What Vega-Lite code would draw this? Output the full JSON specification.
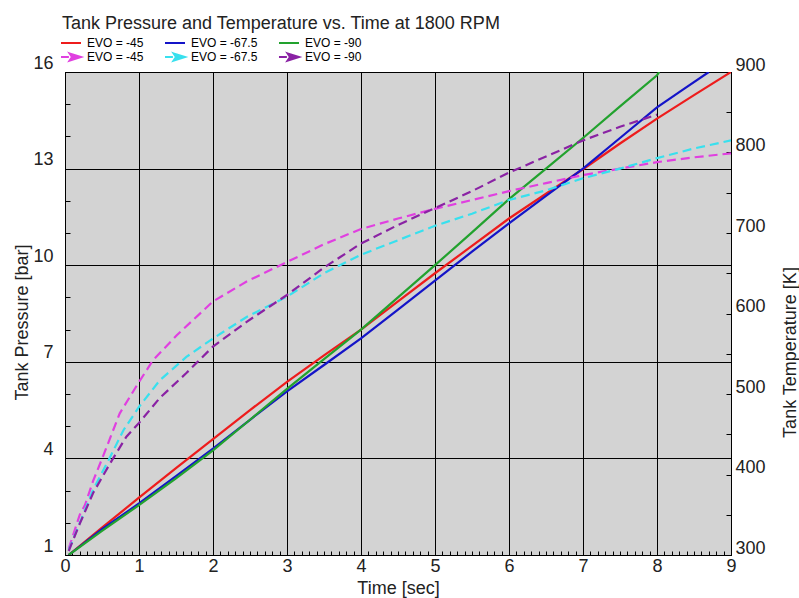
{
  "$schema": "https://vega.github.io/schema/vega-lite/v6.json",
  "width": 666,
  "height": 483,
  "autosize": "none",
  "padding": {"left": 65, "top": 72, "right": 68, "bottom": 43},
  "background": "white",
  "title": {
    "text": "Tank Pressure and Temperature vs. Time at 1800 RPM",
    "anchor": "start",
    "frame": "group",
    "font": "Liberation Sans",
    "fontSize": 18,
    "fontWeight": "normal",
    "color": "#222",
    "offset": 3,
    "dx": -3
  },
  "config": {
    "font": "Liberation Sans",
    "view": {"fill": "#d3d3d3", "stroke": "#000", "strokeWidth": 1},
    "axis": {
      "domainColor": "#000",
      "tickColor": "#000",
      "gridColor": "#000",
      "gridWidth": 1,
      "labelFont": "Liberation Sans",
      "labelFontSize": 18,
      "labelColor": "#222",
      "titleFont": "Liberation Sans",
      "titleFontSize": 18,
      "titleFontWeight": "normal",
      "titleColor": "#222",
      "labelOverlap": false,
      "labelFlush": false,
      "labelBound": false
    }
  },
  "data": {
    "values": [
      {"q": "P", "s": "P-45", "t": 0.05, "v": 1.0},
      {"q": "P", "s": "P-45", "t": 0.5, "v": 1.85},
      {"q": "P", "s": "P-45", "t": 1, "v": 2.78},
      {"q": "P", "s": "P-45", "t": 1.5, "v": 3.7},
      {"q": "P", "s": "P-45", "t": 2, "v": 4.6},
      {"q": "P", "s": "P-45", "t": 2.5, "v": 5.5},
      {"q": "P", "s": "P-45", "t": 3, "v": 6.38},
      {"q": "P", "s": "P-45", "t": 3.5, "v": 7.2},
      {"q": "P", "s": "P-45", "t": 4, "v": 8.0},
      {"q": "P", "s": "P-45", "t": 4.5, "v": 8.88},
      {"q": "P", "s": "P-45", "t": 5, "v": 9.75},
      {"q": "P", "s": "P-45", "t": 5.5, "v": 10.6},
      {"q": "P", "s": "P-45", "t": 6, "v": 11.45},
      {"q": "P", "s": "P-45", "t": 6.5, "v": 12.22},
      {"q": "P", "s": "P-45", "t": 7, "v": 12.98},
      {"q": "P", "s": "P-45", "t": 7.5, "v": 13.78},
      {"q": "P", "s": "P-45", "t": 8, "v": 14.55},
      {"q": "P", "s": "P-45", "t": 8.5, "v": 15.28},
      {"q": "P", "s": "P-45", "t": 9, "v": 16.0},

      {"q": "P", "s": "P-67.5", "t": 0.05, "v": 1.0},
      {"q": "P", "s": "P-67.5", "t": 0.5, "v": 1.8},
      {"q": "P", "s": "P-67.5", "t": 1, "v": 2.6},
      {"q": "P", "s": "P-67.5", "t": 1.5, "v": 3.45},
      {"q": "P", "s": "P-67.5", "t": 2, "v": 4.3},
      {"q": "P", "s": "P-67.5", "t": 2.5, "v": 5.2},
      {"q": "P", "s": "P-67.5", "t": 3, "v": 6.08},
      {"q": "P", "s": "P-67.5", "t": 3.5, "v": 6.9},
      {"q": "P", "s": "P-67.5", "t": 4, "v": 7.73},
      {"q": "P", "s": "P-67.5", "t": 4.5, "v": 8.62},
      {"q": "P", "s": "P-67.5", "t": 5, "v": 9.52},
      {"q": "P", "s": "P-67.5", "t": 5.5, "v": 10.42},
      {"q": "P", "s": "P-67.5", "t": 6, "v": 11.3},
      {"q": "P", "s": "P-67.5", "t": 6.5, "v": 12.15},
      {"q": "P", "s": "P-67.5", "t": 7, "v": 13.0},
      {"q": "P", "s": "P-67.5", "t": 7.5, "v": 13.95},
      {"q": "P", "s": "P-67.5", "t": 8, "v": 14.9},
      {"q": "P", "s": "P-67.5", "t": 8.35, "v": 15.45},
      {"q": "P", "s": "P-67.5", "t": 8.7, "v": 16.0},

      {"q": "P", "s": "P-90", "t": 0.05, "v": 1.0},
      {"q": "P", "s": "P-90", "t": 0.5, "v": 1.75},
      {"q": "P", "s": "P-90", "t": 1, "v": 2.55},
      {"q": "P", "s": "P-90", "t": 1.5, "v": 3.38},
      {"q": "P", "s": "P-90", "t": 2, "v": 4.25},
      {"q": "P", "s": "P-90", "t": 2.5, "v": 5.2},
      {"q": "P", "s": "P-90", "t": 3, "v": 6.16},
      {"q": "P", "s": "P-90", "t": 3.5, "v": 7.08},
      {"q": "P", "s": "P-90", "t": 4, "v": 8.0},
      {"q": "P", "s": "P-90", "t": 4.5, "v": 9.0},
      {"q": "P", "s": "P-90", "t": 5, "v": 10.0},
      {"q": "P", "s": "P-90", "t": 5.5, "v": 11.02},
      {"q": "P", "s": "P-90", "t": 6, "v": 12.05},
      {"q": "P", "s": "P-90", "t": 6.5, "v": 13.0},
      {"q": "P", "s": "P-90", "t": 7, "v": 13.95},
      {"q": "P", "s": "P-90", "t": 7.5, "v": 14.93},
      {"q": "P", "s": "P-90", "t": 8, "v": 15.9},
      {"q": "P", "s": "P-90", "t": 8.03, "v": 16.0},

      {"q": "T", "s": "T-45", "t": 0.05, "v": 308},
      {"q": "T", "s": "T-45", "t": 0.2, "v": 350},
      {"q": "T", "s": "T-45", "t": 0.27, "v": 362},
      {"q": "T", "s": "T-45", "t": 0.38, "v": 392},
      {"q": "T", "s": "T-45", "t": 0.52, "v": 424},
      {"q": "T", "s": "T-45", "t": 0.74, "v": 476},
      {"q": "T", "s": "T-45", "t": 1.0, "v": 515},
      {"q": "T", "s": "T-45", "t": 1.19, "v": 542},
      {"q": "T", "s": "T-45", "t": 1.51, "v": 573},
      {"q": "T", "s": "T-45", "t": 2.0, "v": 615},
      {"q": "T", "s": "T-45", "t": 2.46, "v": 640},
      {"q": "T", "s": "T-45", "t": 3.0, "v": 664},
      {"q": "T", "s": "T-45", "t": 3.5, "v": 686},
      {"q": "T", "s": "T-45", "t": 4.0, "v": 705},
      {"q": "T", "s": "T-45", "t": 4.5, "v": 718},
      {"q": "T", "s": "T-45", "t": 5.0, "v": 730},
      {"q": "T", "s": "T-45", "t": 5.5, "v": 741},
      {"q": "T", "s": "T-45", "t": 6.0, "v": 752},
      {"q": "T", "s": "T-45", "t": 6.5, "v": 762},
      {"q": "T", "s": "T-45", "t": 7.0, "v": 772},
      {"q": "T", "s": "T-45", "t": 7.5, "v": 780},
      {"q": "T", "s": "T-45", "t": 8.0, "v": 788},
      {"q": "T", "s": "T-45", "t": 8.5, "v": 794},
      {"q": "T", "s": "T-45", "t": 9.0, "v": 799},

      {"q": "T", "s": "T-67.5", "t": 0.05, "v": 306},
      {"q": "T", "s": "T-67.5", "t": 0.2, "v": 340},
      {"q": "T", "s": "T-67.5", "t": 0.38, "v": 381},
      {"q": "T", "s": "T-67.5", "t": 0.47, "v": 397},
      {"q": "T", "s": "T-67.5", "t": 0.59, "v": 418},
      {"q": "T", "s": "T-67.5", "t": 0.79, "v": 455},
      {"q": "T", "s": "T-67.5", "t": 1.0, "v": 484},
      {"q": "T", "s": "T-67.5", "t": 1.28, "v": 517},
      {"q": "T", "s": "T-67.5", "t": 1.64, "v": 546},
      {"q": "T", "s": "T-67.5", "t": 2.0, "v": 569},
      {"q": "T", "s": "T-67.5", "t": 2.46, "v": 596},
      {"q": "T", "s": "T-67.5", "t": 3.0, "v": 621},
      {"q": "T", "s": "T-67.5", "t": 3.5, "v": 650},
      {"q": "T", "s": "T-67.5", "t": 4.0, "v": 673},
      {"q": "T", "s": "T-67.5", "t": 4.5, "v": 691},
      {"q": "T", "s": "T-67.5", "t": 5.0, "v": 709},
      {"q": "T", "s": "T-67.5", "t": 5.5, "v": 724},
      {"q": "T", "s": "T-67.5", "t": 6.0, "v": 741},
      {"q": "T", "s": "T-67.5", "t": 6.5, "v": 753},
      {"q": "T", "s": "T-67.5", "t": 7.0, "v": 768},
      {"q": "T", "s": "T-67.5", "t": 7.5, "v": 780},
      {"q": "T", "s": "T-67.5", "t": 8.0, "v": 793},
      {"q": "T", "s": "T-67.5", "t": 8.5, "v": 805},
      {"q": "T", "s": "T-67.5", "t": 9.0, "v": 815},

      {"q": "T", "s": "T-90", "t": 0.05, "v": 305},
      {"q": "T", "s": "T-90", "t": 0.2, "v": 339},
      {"q": "T", "s": "T-90", "t": 0.38, "v": 377},
      {"q": "T", "s": "T-90", "t": 0.61, "v": 414},
      {"q": "T", "s": "T-90", "t": 0.83, "v": 447},
      {"q": "T", "s": "T-90", "t": 1.0, "v": 464},
      {"q": "T", "s": "T-90", "t": 1.28, "v": 495},
      {"q": "T", "s": "T-90", "t": 1.64, "v": 526},
      {"q": "T", "s": "T-90", "t": 2.0, "v": 559},
      {"q": "T", "s": "T-90", "t": 2.46, "v": 590},
      {"q": "T", "s": "T-90", "t": 3.0, "v": 623},
      {"q": "T", "s": "T-90", "t": 3.5, "v": 657},
      {"q": "T", "s": "T-90", "t": 4.0, "v": 687},
      {"q": "T", "s": "T-90", "t": 4.5, "v": 710},
      {"q": "T", "s": "T-90", "t": 5.0, "v": 731},
      {"q": "T", "s": "T-90", "t": 5.5, "v": 752},
      {"q": "T", "s": "T-90", "t": 6.0, "v": 775},
      {"q": "T", "s": "T-90", "t": 6.5, "v": 795},
      {"q": "T", "s": "T-90", "t": 7.0, "v": 815},
      {"q": "T", "s": "T-90", "t": 7.5, "v": 832},
      {"q": "T", "s": "T-90", "t": 8.0, "v": 847}
    ]
  },
  "encoding": {
    "x": {
      "field": "t",
      "type": "quantitative",
      "scale": {"domain": [0, 9], "nice": false, "zero": false},
      "axis": {
        "title": "Time [sec]",
        "values": [0,0.1,0.2,0.3,0.4,0.5,0.6,0.7,0.8,0.9,1,1.1,1.2,1.3,1.4,1.5,1.6,1.7,1.8,1.9,2,2.1,2.2,2.3,2.4,2.5,2.6,2.7,2.8,2.9,3,3.1,3.2,3.3,3.4,3.5,3.6,3.7,3.8,3.9,4,4.1,4.2,4.3,4.4,4.5,4.6,4.7,4.8,4.9,5,5.1,5.2,5.3,5.4,5.5,5.6,5.7,5.8,5.9,6,6.1,6.2,6.3,6.4,6.5,6.6,6.7,6.8,6.9,7,7.1,7.2,7.3,7.4,7.5,7.6,7.7,7.8,7.9,8,8.1,8.2,8.3,8.4,8.5,8.6,8.7,8.8,8.9,9],
        "grid": true,
        "gridOpacity": {"condition": {"test": "abs(datum.value - round(datum.value)) < 0.001", "value": 1}, "value": 0},
        "ticks": true,
        "tickSize": -4,
        "tickWidth": 1,
        "labelExpr": "abs(datum.value - round(datum.value)) < 0.001 ? format(datum.value, 'd') : ''",
        "labelPadding": 6,
        "labelBaseline": "top",
        "titleX": 333,
        "titleY": 38,
        "titleAlign": "center",
        "titleBaseline": "alphabetic"
      }
    },
    "color": {
      "field": "s",
      "type": "nominal",
      "scale": {
        "domain": ["P-45", "P-67.5", "P-90", "T-45", "T-67.5", "T-90"],
        "range": ["#ee1c1c", "#1414c8", "#22a22e", "#e040e0", "#38e0ee", "#8a22a4"]
      },
      "legend": {
        "title": null,
        "orient": "none",
        "legendX": -1,
        "legendY": -36,
        "columns": 3,
        "direction": "horizontal",
        "gridAlign": "none",
        "padding": 0,
        "symbolType": "stroke",
        "symbolSize": 144,
        "symbolStrokeWidth": 2,
        "labelFont": "Liberation Sans",
        "labelFontSize": 12,
        "labelColor": "#000",
        "labelOffset": 9,
        "columnPadding": 16,
        "rowPadding": 0,
        "labelExpr": "'EVO = ' + slice(datum.label, 1)",
        "encode": {
          "symbols": {
            "update": {
              "shape": {"signal": "datum.value[0] === 'T' ? 'M-1.67,0L-0.35,0M-0.25,-0.6L1.67,0L-0.25,0.6L0.15,0Z' : 'M-1.67,0L1.67,0'"},
              "fill": {"signal": "datum.value[0] === 'T' ? scale('color', datum.value) : 'transparent'"},
              "strokeDash": {"value": []}
            }
          }
        }
      }
    }
  },
  "layer": [
    {
      "transform": [{"filter": {"field": "q", "equal": "P"}}],
      "mark": {"type": "line", "strokeWidth": 2.2, "clip": true},
      "encoding": {
        "y": {
          "field": "v",
          "type": "quantitative",
          "scale": {"domain": [1, 16], "nice": false, "zero": false},
          "axis": {
            "orient": "left",
            "title": "Tank Pressure [bar]",
            "values": [1,2,3,4,5,6,7,8,9,10,11,12,13,14,15,16],
            "grid": true,
            "gridOpacity": {"condition": {"test": "(datum.value - 1) % 3 === 0", "value": 1}, "value": 0},
            "ticks": true,
            "tickSize": -5,
            "labelExpr": "(datum.value - 1) % 3 === 0 ? datum.label : ''",
            "labelAlign": "right",
            "labelBaseline": "alphabetic",
            "labelOffset": -4,
            "labelPadding": 17,
            "titleAngle": 270,
            "titleX": -43,
            "titleY": 250,
            "titleAlign": "center",
            "titleBaseline": "middle"
          }
        }
      }
    },
    {
      "transform": [{"filter": {"field": "q", "equal": "T"}}],
      "mark": {"type": "line", "strokeWidth": 2.2, "strokeDash": [9, 5], "clip": true},
      "encoding": {
        "y": {
          "field": "v",
          "type": "quantitative",
          "scale": {"domain": [300, 900], "nice": false, "zero": false},
          "axis": {
            "orient": "right",
            "title": "Tank Temperature [K]",
            "values": [300,350,400,450,500,550,600,650,700,750,800,850,900],
            "grid": false,
            "ticks": true,
            "tickSize": -5,
            "labelExpr": "datum.value % 100 === 0 ? datum.label : ''",
            "labelAlign": "left",
            "labelBaseline": "alphabetic",
            "labelOffset": -2,
            "labelPadding": 9,
            "titleAngle": 270,
            "titleX": 59,
            "titleY": 280,
            "titleAlign": "center",
            "titleBaseline": "middle"
          }
        }
      }
    }
  ],
  "resolve": {"scale": {"y": "independent"}}
}
